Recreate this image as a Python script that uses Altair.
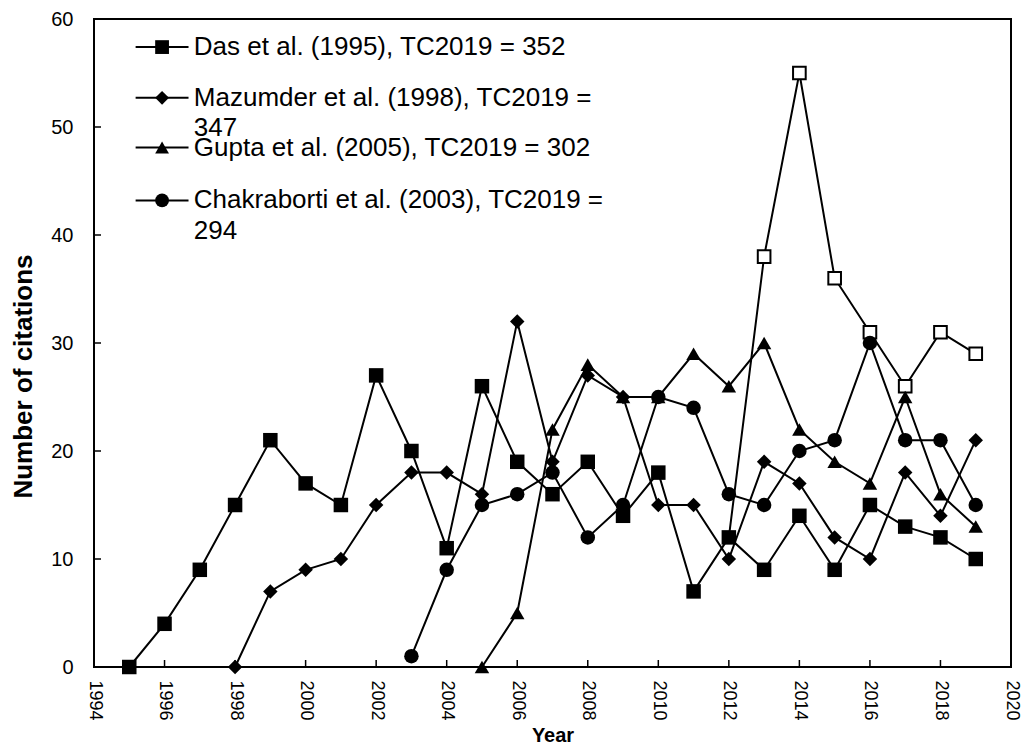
import altair as alt
import pandas as pd

# ---------------- data ----------------
das_years = list(range(1995, 2020))
das_vals = [0, 4, 9, 15, 21, 17, 15, 27, 20, 11, 26, 19, 16, 19, 14, 18, 7, 12, 9, 14, 9, 15, 13, 12, 10]
maz_years = list(range(1998, 2020))
maz_vals = [0, 7, 9, 10, 15, 18, 18, 16, 32, 19, 27, 25, 15, 15, 10, 19, 17, 12, 10, 18, 14, 21]
gup_years = list(range(2005, 2020))
gup_vals = [0, 5, 22, 28, 25, 25, 29, 26, 30, 22, 19, 17, 25, 16, 13]
cha_years = list(range(2003, 2020))
cha_vals = [1, 9, 15, 16, 18, 12, 15, 25, 24, 16, 15, 20, 21, 30, 21, 21, 15]
open_years = list(range(2012, 2020))
open_vals = [12, 38, 55, 36, 31, 26, 31, 29]

series_names = ["Das", "Mazumder", "Gupta", "Chakraborti"]
series_shapes = ["square", "diamond", "triangle-up", "circle"]
legend_labels = [
    ["Das et al. (1995), TC2019 = 352"],
    ["Mazumder et al. (1998), TC2019 =", "347"],
    ["Gupta et al. (2005), TC2019 = 302"],
    ["Chakraborti et al. (2003), TC2019 =", "294"],
]
x_ticks = list(range(1994, 2021, 2))
y_ticks = list(range(0, 61, 10))

rows = []
for name, ys, vs in zip(series_names,
                        [das_years, maz_years, gup_years, cha_years],
                        [das_vals, maz_vals, gup_vals, cha_vals]):
    for yr, v in zip(ys, vs):
        rows.append({"series": name, "year": yr, "value": v})
df = pd.DataFrame(rows)
df_open = pd.DataFrame({"year": open_years, "value": open_vals})

# ---------------- layout ----------------
W, H = 917, 648
FONT = "Liberation Sans"
xscale = alt.Scale(domain=[1994, 2020], nice=False, zero=False)
yscale = alt.Scale(domain=[0, 60], nice=False)
shape_scale = alt.Scale(domain=series_names, range=series_shapes)

# legend placement in data units (layout, not data)
leg_line_x0, leg_line_x1, leg_mark_x, leg_text_x = 1995.18, 1996.68, 1995.93, 1996.83
leg_rows_y = [57.4, 52.7, 48.1, 43.2]
leg_second_line_dy = 2.8

x_axis = alt.Axis(values=x_ticks, format="d", labelAngle=90, labelAlign="left",
                  labelBaseline="middle", labelFontSize=18, labelPadding=13,
                  labelFlush=False, labelOverlap=False, ticks=False, domain=False,
                  grid=False, title="Year", titleFontSize=20, titleFontWeight="bold",
                  titleX=W / 2, titleY=68, titleBaseline="middle")
y_axis = alt.Axis(values=y_ticks, labelFontSize=20, labelPadding=21, ticks=False,
                  domain=False, grid=False, labelFlush=False, labelOverlap=False,
                  title="Number of citations", titleFontSize=26, titleFontWeight="bold",
                  titleX=-71, titleY=357, titleBaseline="middle", titleAngle=-90)

base = alt.Chart(df)
lines = base.mark_line(color="black", strokeWidth=2).encode(
    x=alt.X("year:Q", scale=xscale, axis=x_axis),
    y=alt.Y("value:Q", scale=yscale, axis=y_axis),
    detail="series:N",
)
points = base.mark_point(filled=True, color="black", opacity=1, size=210).encode(
    x=alt.X("year:Q", scale=xscale),
    y=alt.Y("value:Q", scale=yscale),
    shape=alt.Shape("series:N", scale=shape_scale, legend=None),
)
open_line = alt.Chart(df_open).mark_line(color="black", strokeWidth=2).encode(
    x=alt.X("year:Q", scale=xscale),
    y=alt.Y("value:Q", scale=yscale),
)
open_pts = alt.Chart(df_open).transform_filter(alt.datum.year >= 2013).mark_point(
    shape="square", filled=True, fill="white", stroke="black", strokeWidth=2,
    size=160, opacity=1).encode(
    x=alt.X("year:Q", scale=xscale),
    y=alt.Y("value:Q", scale=yscale),
)

# inward ticks
xt = alt.Chart(pd.DataFrame({"t": x_ticks})).mark_rule(color="black", strokeWidth=1.5).encode(
    x=alt.X("t:Q", scale=xscale), y=alt.value(H), y2=alt.value(H - 7))
yt = alt.Chart(pd.DataFrame({"t": y_ticks})).mark_rule(color="black", strokeWidth=1.5).encode(
    y=alt.Y("t:Q", scale=yscale), x=alt.value(0), x2=alt.value(7))

# legend
leg_sym = pd.DataFrame({
    "series": series_names,
    "x0": [leg_line_x0] * 4, "x1": [leg_line_x1] * 4, "xm": [leg_mark_x] * 4,
    "y": leg_rows_y,
})
leg_txt_rows = []
for labs, yv in zip(legend_labels, leg_rows_y):
    for i, lab in enumerate(labs):
        leg_txt_rows.append({"label": lab, "x": leg_text_x, "y": yv - i * leg_second_line_dy})
leg_txt = pd.DataFrame(leg_txt_rows)

leg_lines = alt.Chart(leg_sym).mark_rule(color="black", strokeWidth=2).encode(
    x=alt.X("x0:Q", scale=xscale), x2="x1:Q", y=alt.Y("y:Q", scale=yscale))
leg_pts = alt.Chart(leg_sym).mark_point(filled=True, color="black", opacity=1, size=190).encode(
    x=alt.X("xm:Q", scale=xscale), y=alt.Y("y:Q", scale=yscale),
    shape=alt.Shape("series:N", scale=shape_scale, legend=None))
leg_text = alt.Chart(leg_txt).mark_text(align="left", baseline="middle", fontSize=26,
                                        font=FONT, color="black").encode(
    x=alt.X("x:Q", scale=xscale), y=alt.Y("y:Q", scale=yscale), text="label:N")

chart = alt.layer(lines, open_line, open_pts, points, xt, yt, leg_lines, leg_pts, leg_text).properties(
    width=W, height=H,
    padding={"left": 86, "top": 11, "right": 10, "bottom": 80},
    autosize=alt.AutoSizeParams(type="none"),
    background="white",
).configure_view(stroke="black", strokeWidth=2).configure_axis(
    labelFont=FONT, titleFont=FONT, labelColor="black", titleColor="black")

chart.save("out.html", embed_options={"renderer": "svg", "actions": False})
